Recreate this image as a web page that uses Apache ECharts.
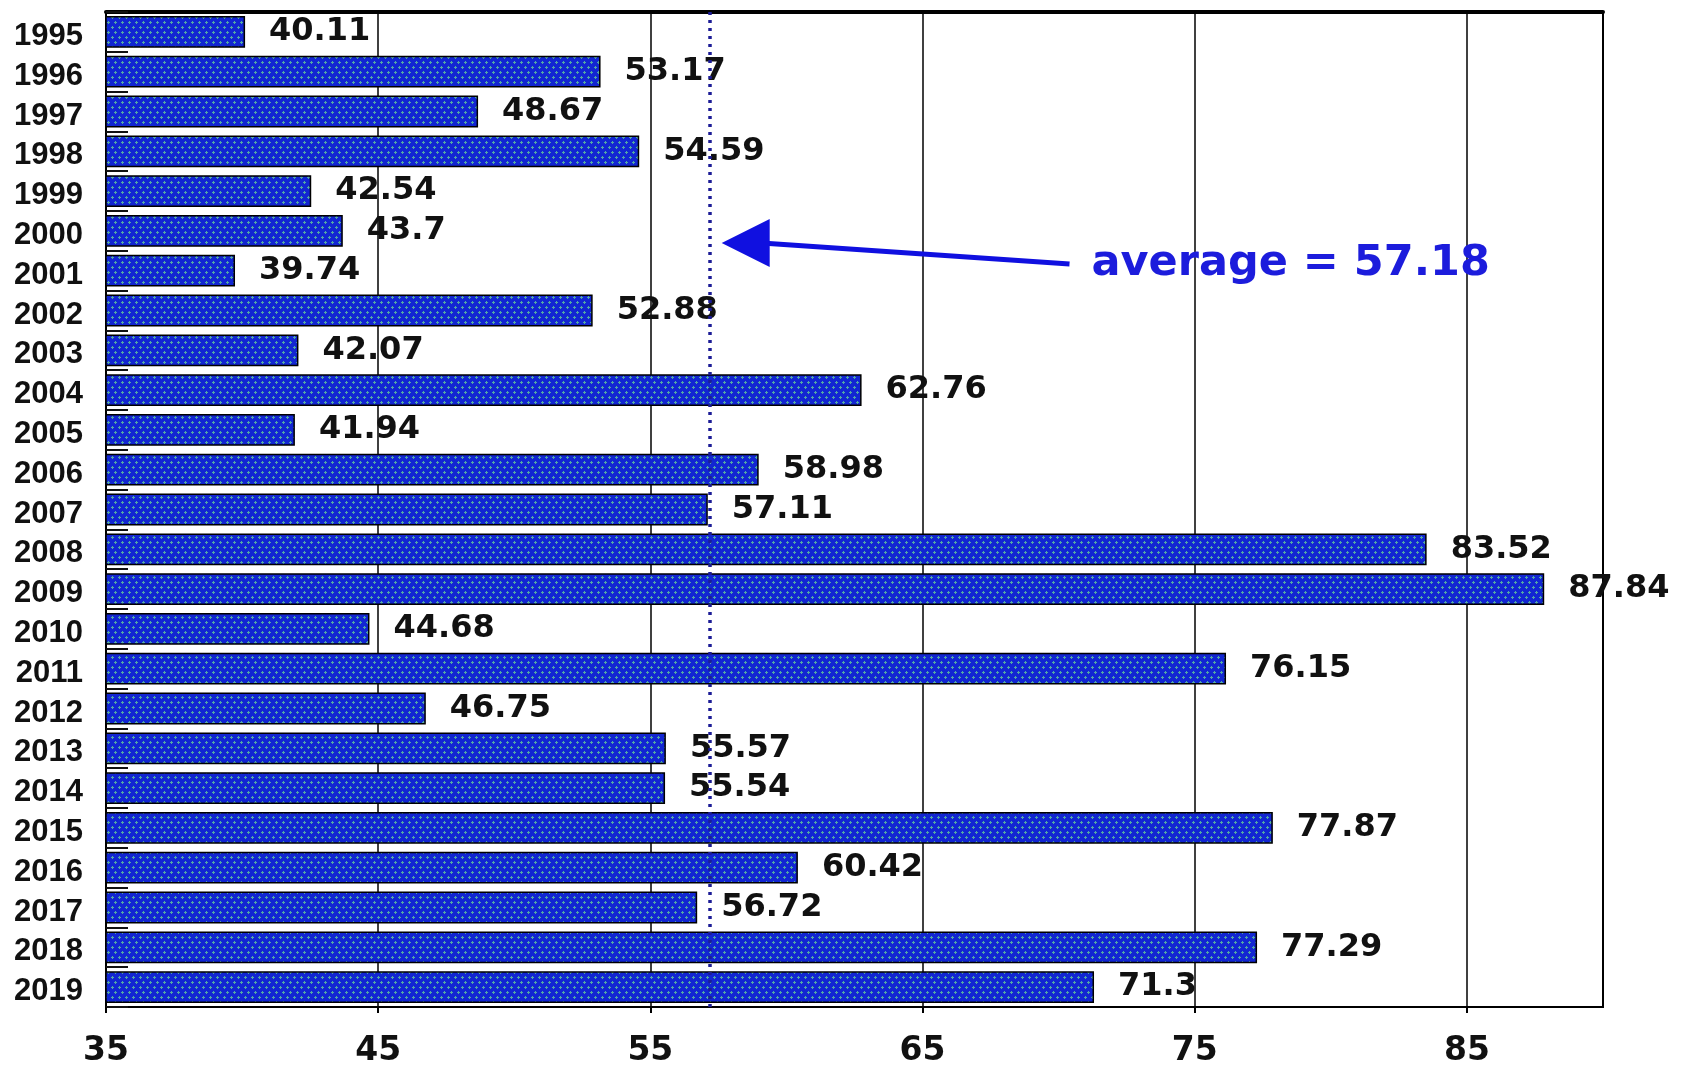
<!DOCTYPE html>
<html>
<head>
<meta charset="utf-8">
<script src="https://cdn.jsdelivr.net/npm/echarts@6/dist/echarts.min.js"></script>
<style>
  html, body { margin: 0; padding: 0; background: #fff; }
  #chart { width: 1702px; height: 1068px; }
</style>
</head>
<body>
<div id="chart"></div>
<script>
// years shown on the y axis (top to bottom)
var years = ['1995', '1996', '1997', '1998', '1999', '2000', '2001', '2002', '2003', '2004',
  '2005', '2006', '2007', '2008', '2009', '2010', '2011', '2012', '2013', '2014',
  '2015', '2016', '2017', '2018', '2019'];
// value of each year
var values = [40.11, 53.17, 48.67, 54.59, 42.54, 43.7, 39.74, 52.88, 42.07, 62.76,
  41.94, 58.98, 57.11, 83.52, 87.84, 44.68, 76.15, 46.75, 55.57, 55.54,
  77.87, 60.42, 56.72, 77.29, 71.3];
// x axis range and tick step
var xTicks = [35, 45, 55, 65, 75, 85];
var xMax = 90;
// average annotation
var average = 57.18;
var averageText = 'average = ' + average;

// blue fill with small green plus signs, like the original
function makePattern() {
  var c = document.createElement('canvas');
  c.width = 14;
  c.height = 10;
  var ctx = c.getContext('2d');
  ctx.fillStyle = '#1226d2';
  ctx.fillRect(0, 0, 14, 10);
  ctx.fillStyle = '#52a8a4';
  function plus(x, y) {
    ctx.fillRect(x - 1, y, 3, 1);
    ctx.fillRect(x, y - 1, 1, 3);
  }
  plus(3, 2); plus(10, 2);
  plus(0, 7); plus(7, 7); plus(14, 7);
  return c;
}

var chart = echarts.init(document.getElementById('chart'));

var option = {
  animation: false,
  backgroundColor: '#fff',
  grid: {
    left: 106, right: 99, top: 12, bottom: 55,
    show: true, borderColor: '#000', borderWidth: 2
  },
  xAxis: [{
    type: 'value',
    min: xTicks[0],
    max: xMax,
    interval: xTicks[1] - xTicks[0],
    position: 'bottom',
    axisLine: { show: true, lineStyle: { color: '#000', width: 2 } },
    axisTick: { show: true, length: 6, lineStyle: { color: '#000', width: 2 } },
    axisLabel: {
      showMaxLabel: false,
      margin: 28,
      color: '#111',
      fontFamily: 'DejaVu Sans',
      fontWeight: 'bold',
      fontSize: 33
    },
    splitLine: { show: true, lineStyle: { color: '#000', width: 1.5 } }
  }, {
    // heavier top border
    type: 'value',
    min: xTicks[0],
    max: xMax,
    position: 'top',
    axisLine: { show: true, lineStyle: { color: '#000', width: 4 } },
    axisTick: { show: false },
    axisLabel: { show: false },
    splitLine: { show: false }
  }],
  yAxis: {
    type: 'category',
    data: years,
    inverse: true,
    axisLine: { show: true, lineStyle: { color: '#000', width: 2 } },
    axisTick: { show: true, inside: true, length: 22, lineStyle: { color: '#111', width: 2 } },
    axisLabel: {
      interval: 0,
      margin: 23,
      verticalAlign: 'top',
      lineHeight: 9,
      color: '#111',
      fontFamily: 'Liberation Sans',
      fontWeight: 'bold',
      fontSize: 31
    }
  },
  series: [{
    type: 'bar',
    data: values,
    barCategoryGap: '20%',
    itemStyle: {
      color: { image: makePattern(), repeat: 'repeat' },
      borderColor: '#000',
      borderWidth: 1.5
    },
    label: {
      show: true,
      position: 'right',
      distance: 24,
      color: '#111',
      fontFamily: 'DejaVu Sans',
      fontWeight: 'bold',
      fontSize: 32
    },
    markLine: {
      silent: true,
      symbol: ['none', 'none'],
      label: { show: false },
      lineStyle: { color: '#1c1c96', width: 3.5, type: [3, 5] },
      data: [{ xAxis: average }]
    }
  }]
};

chart.setOption(option);

// arrow and text pointing at the average line
var tipX = chart.convertToPixel({ xAxisIndex: 0 }, average) + 12;
var tipY = chart.convertToPixel({ yAxisIndex: 0 }, '2000') + 12;
var tailX = chart.convertToPixel({ xAxisIndex: 0 }, 70.4);
var tailY = tipY + 21;

chart.setOption({
  graphic: [{
    type: 'line',
    shape: { x1: tipX + 40, y1: tipY, x2: tailX, y2: tailY },
    style: { stroke: '#1010e0', lineWidth: 5 }
  }, {
    type: 'polygon',
    shape: { points: [[tipX, tipY], [tipX + 48, tipY - 24], [tipX + 48, tipY + 24]] },
    style: { fill: '#1010e0' }
  }, {
    type: 'text',
    left: tailX + 22,
    top: tailY - 22,
    style: {
      text: averageText,
      fill: '#1c1cdc',
      font: 'bold 43px "DejaVu Sans"'
    }
  }]
});
</script>
</body>
</html>
